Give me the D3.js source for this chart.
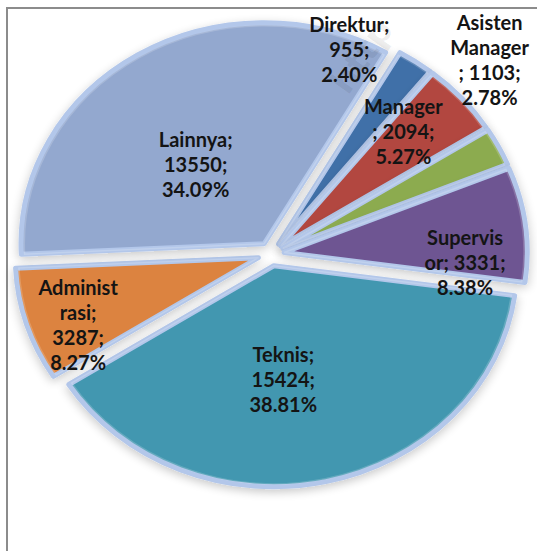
<!DOCTYPE html>
<html>
<head>
<meta charset="utf-8">
<title>Pie chart</title>
<style>
  body { margin: 0; background: #fff; }
  svg { display: block; }
  text.lbl { font-family: Lato, sans-serif; font-weight: bold; font-size: 20px; fill: #141414; }
</style>
<script src="https://d3js.org/d3.v7.min.js"></script>
</head>
<body>
<script>
// chart data
var categories = ["Direktur", "Manager", "Asisten Manager", "Supervisor", "Teknis", "Administrasi", "Lainnya"];
var values = [955, 2094, 1103, 3331, 15424, 3287, 13550];
var colors = ["#3f6fa8", "#b2473f", "#8cab4f", "#6e5592", "#4297b0", "#dc833f", "#93a8cf"];

// where Excel put each label: [angle in degrees, fraction of radius]
var labelPlacement = [[19.4, 0.97], [45, 0.77], [46, 1.25], [93.6, 0.80], [175, 0.58], [247.3, 0.86], [321.7, 0.50]];

var width = 537, height = 551;
var cx = 271, cy = 254, sx = 1.1;
var radius = 221, explode = 12, wrapWidth = 82, lineHeight = 25;

var svg = d3.select("body").append("svg")
    .attr("width", width)
    .attr("height", height);

var defs = svg.append("defs");
var shadow = defs.append("filter").attr("id", "shadow")
    .attr("x", "-20%").attr("y", "-20%").attr("width", "140%").attr("height", "140%");
shadow.append("feGaussianBlur").attr("in", "SourceAlpha").attr("stdDeviation", 5).attr("result", "blur");
shadow.append("feOffset").attr("in", "blur").attr("dy", 3).attr("result", "off");
shadow.append("feComponentTransfer").attr("in", "off").attr("result", "soft")
  .append("feFuncA").attr("type", "linear").attr("slope", 0.22);
var merge = shadow.append("feMerge");
merge.append("feMergeNode").attr("in", "soft");
merge.append("feMergeNode").attr("in", "SourceGraphic");

// chart frame (runs off the right and bottom of the picture)
svg.append("rect")
    .attr("x", 7).attr("y", 8)
    .attr("width", 560).attr("height", 580)
    .attr("fill", "none")
    .attr("stroke", "#8c8c8c")
    .attr("stroke-width", 2);

var total = d3.sum(values);
var rows = categories.map(function(c, i) { return { name: c, value: values[i], color: colors[i] }; });

var pie = d3.pie()
    .value(function(d) { return d.value; })
    .sort(null)
    .startAngle(30 * Math.PI / 180)
    .endAngle(390 * Math.PI / 180);

var arc = d3.arc().innerRadius(0).outerRadius(radius);
var arcs = pie(rows);

var plot = svg.append("g")
    .attr("transform", "translate(" + cx + "," + cy + ") scale(" + sx + ",1)");

var slices = plot.selectAll("g.slice")
    .data(arcs)
  .enter().append("g")
    .attr("class", "slice")
    .attr("filter", "url(#shadow)")
    .attr("transform", function(d) {
      var a = (d.startAngle + d.endAngle) / 2;
      return "translate(" + (explode * Math.sin(a)) + "," + (-explode * Math.cos(a)) + ")";
    });

slices.append("path")
    .attr("d", arc)
    .attr("fill", function(d) { return d.data.color; })
    .attr("stroke", "#b3c7ea")
    .attr("stroke-width", 5)
    .attr("stroke-linejoin", "round")
    .attr("vector-effect", "non-scaling-stroke");

slices.append("path")
    .attr("d", d3.arc().innerRadius(0).outerRadius(radius - 3))
    .attr("fill", "none")
    .attr("stroke", "#ffffff")
    .attr("stroke-opacity", 0.18)
    .attr("stroke-width", 1.5)
    .attr("vector-effect", "non-scaling-stroke");

// faint watermark
svg.append("text")
    .attr("transform", "translate(348,96) rotate(-55)")
    .attr("font-family", "DejaVu Sans, sans-serif")
    .attr("font-weight", "bold")
    .attr("font-size", 34)
    .attr("fill", "#000")
    .attr("fill-opacity", 0.07)
    .text("http");

// text measuring for Excel-like wrapping
var probe = svg.append("text").attr("class", "lbl").attr("x", -999).attr("y", -999);
function measure(s) { probe.text(s); return probe.node().getComputedTextLength(); }

function wrap(str, w) {
  var words = str.split(" "), lines = [], line = "";
  words.forEach(function(word) {
    var cand = line ? line + " " + word : word;
    if (measure(cand) <= w) { line = cand; return; }
    if (line) lines.push(line);
    line = word;
    while (measure(line) > w) {
      var k = line.length - 1;
      while (k > 1 && measure(line.slice(0, k)) > w) k--;
      lines.push(line.slice(0, k));
      line = line.slice(k);
    }
  });
  if (line) lines.push(line);
  return lines;
}

var labels = svg.append("g");
arcs.forEach(function(d, i) {
  var pct = (d.data.value / total * 100).toFixed(2) + "%";
  var lines = wrap(d.data.name + "; " + d.data.value + "; " + pct, wrapWidth);
  var p = labelPlacement[i];
  var a = p[0] * Math.PI / 180;
  var x = cx + sx * radius * p[1] * Math.sin(a);
  var y = cy - radius * p[1] * Math.cos(a);
  var y0 = y + 5 - (lines.length - 1) * lineHeight / 2;
  var t = labels.append("text")
      .attr("class", "lbl")
      .attr("text-anchor", "middle");
  lines.forEach(function(l, j) {
    t.append("tspan").attr("x", x).attr("y", y0 + j * lineHeight).text(l);
  });
});
probe.remove();
</script>
</body>
</html>
